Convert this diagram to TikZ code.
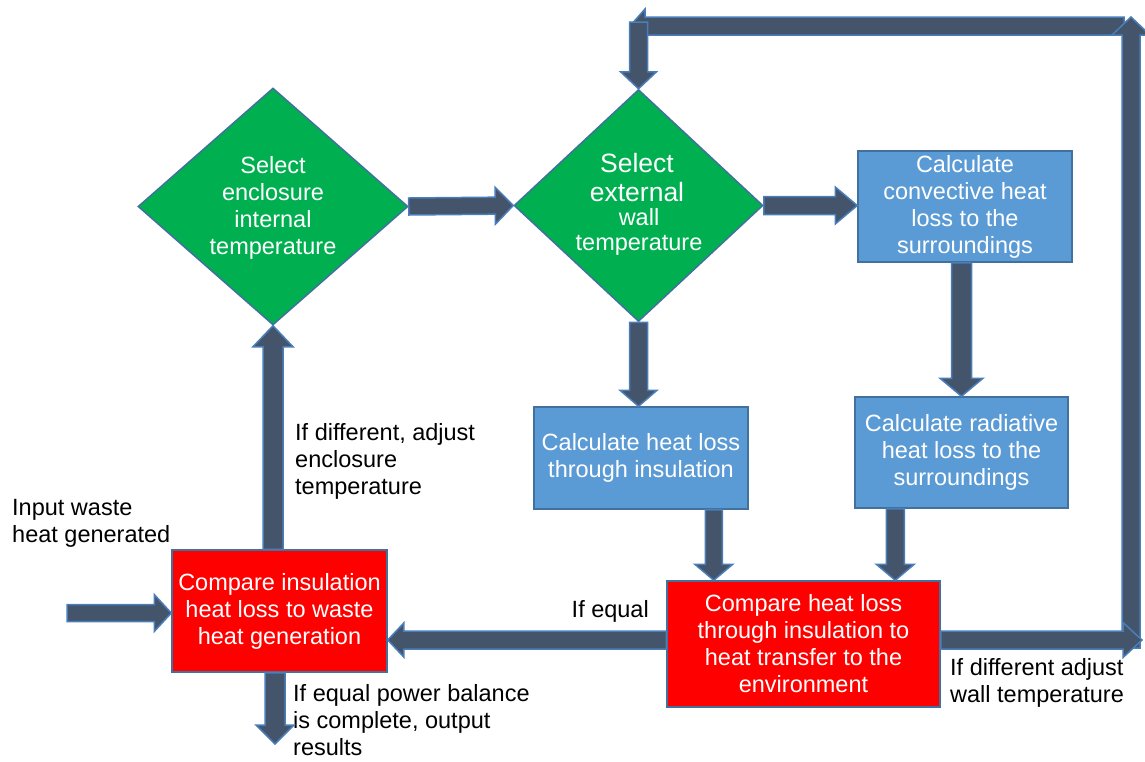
\documentclass[tikz,border=0pt]{standalone}
\usepackage{fontspec}
\setmainfont{Liberation Sans}
\usetikzlibrary{shapes.geometric,calc}
\definecolor{dgreen}{HTML}{00B050}
\definecolor{bbox}{HTML}{5B9BD5}
\definecolor{rbox}{HTML}{FF0000}
\definecolor{outl}{HTML}{41719C}
\definecolor{afill}{HTML}{44546A}
\definecolor{aline}{HTML}{4A7EBB}
\tikzset{
  basefont/.style={font=\fontsize{23.5}{27}\selectfont},
  dia/.style={diamond,draw=outl,line width=1.5pt,fill=dgreen,inner sep=0pt},
  bluebox/.style={rectangle,draw=outl,line width=1.5pt,fill=bbox,text=white,align=center,basefont,inner sep=0pt},
  redbox/.style={rectangle,draw=outl,line width=1.5pt,fill=rbox,text=white,align=center,basefont,inner sep=0pt},
  diatext/.style={text=white,align=center,basefont,inner sep=0pt},
  lbl/.style={text=black,align=left,basefont,inner sep=0pt},
  barrow/.style={fill=afill,draw=aline,line width=1.5pt,line join=miter},
}
% #1 start, #2 tip, #3 shaft half width, #4 head half width, #5 head length
\newcommand{\blockarrow}[5]{%
  \coordinate (ba-b) at ($(#2)!#5!(#1)$);
  \filldraw[barrow] ($(#1)!#3!90:(#2)$) -- ($(ba-b)!#3!-90:(#1)$) -- ($(ba-b)!#4!-90:(#1)$) -- (#2)
     -- ($(ba-b)!#4!90:(#1)$) -- ($(ba-b)!#3!90:(#1)$) -- ($(#1)!#3!-90:(#2)$) -- cycle;
}
\begin{document}
\begin{tikzpicture}[x=1pt,y=-1pt]
\useasboundingbox (0,0) rectangle (1145,761);

% shapes
\node[dia,minimum width=270pt,minimum height=237pt] (d1) at (273,206.5) {};
\node[dia,minimum width=249pt,minimum height=232pt] (d2) at (638.5,205.5) {};
\node[bluebox,minimum width=214pt,minimum height=111pt] (b1) at (965,206.5)
  {Calculate\\convective heat\\loss to the\\surroundings};
\node[bluebox,minimum width=213pt,minimum height=111pt] (b2) at (961.5,452.5)
  {Calculate radiative\\heat loss to the\\surroundings};
\node[bluebox,minimum width=214pt,minimum height=102pt] (b3) at (641,458)
  {Calculate heat loss\\through insulation};
\node[redbox,minimum width=215pt,minimum height=122pt] (r1) at (279.5,611)
  {Compare insulation\\heat loss to waste\\heat generation};
\node[redbox,minimum width=273pt,minimum height=126pt] (r2) at (803.5,644)
  {Compare heat loss\\through insulation to\\heat transfer to the\\environment};

% diamond texts
\node[diatext] (d1t) at (273,208) {Select\\enclosure\\internal\\temperature};
\node[diatext,font=\fontsize{26.5}{29}\selectfont] (d2ta) at (637,177.5) {Select\\external};
\node[diatext,font=\fontsize{23.5}{25}\selectfont] (d2tb) at (639,232) {wall\\temperature};

% labels
\node[lbl,anchor=west] (l1) at (295,461) {If different, adjust\\enclosure\\temperature};
\node[lbl,anchor=west] (l2) at (12,523) {Input waste\\heat generated};
\node[lbl,anchor=west] (l3) at (293,720) {If equal power balance\\is complete, output\\results};
\node[lbl,anchor=west] (l4) at (950,683) {If different adjust\\wall temperature};
\node[lbl,anchor=east] (l5) at (649,611) {If equal};

% coordinates
\coordinate (in) at (67,613);
\coordinate (out) at (275,744);
\coordinate (a5) at ($(b3.south east)+(-35,0)$);
\coordinate (a6) at ($(b2.south west)+(41,0)$);
\coordinate (a7) at ($(r2.west)+(0,-4)$);
\coordinate (a10) at ($(r1.south)+(-4.5,0)$);
\coordinate (a11) at ($(r2.east)+(0,-4)$);
\coordinate (fr) at (1142,640);
\coordinate (fu0) at (1131,648);
\coordinate (fu) at (1131,17);
\coordinate (ft0) at (1124,26);
\coordinate (ft) at (630,26);
\coordinate (fd0) at (638.5,22);

% arrows
\blockarrow{d1.east}{d2.west}{8.5pt}{18.5pt}{18pt}
\blockarrow{d2.east}{d2.east -| b1.west}{9pt}{18.5pt}{22pt}
\blockarrow{d2.south}{d2.south |- b3.north}{9pt}{18.5pt}{16pt}
\blockarrow{b2.north |- b1.south}{b2.north}{10pt}{21.5pt}{18pt}
\blockarrow{a5}{a5 |- r2.north}{8.5pt}{19pt}{16pt}
\blockarrow{a6}{a6 |- r2.north}{9pt}{19pt}{16pt}
\blockarrow{a7}{r1.east |- a7}{9pt}{17pt}{16pt}
\blockarrow{d1.south |- r1.north}{d1.south}{10pt}{20pt}{21pt}
\blockarrow{in}{r1.west |- in}{8.5pt}{18.5pt}{17pt}
\blockarrow{a10}{out}{10pt}{19pt}{19pt}
\blockarrow{ft0}{ft}{9pt}{17pt}{15pt}
\blockarrow{fd0}{d2.north}{9pt}{18pt}{17pt}
\blockarrow{fu0}{fu}{9pt}{19pt}{18pt}
\blockarrow{a11}{fr}{9pt}{17.5pt}{19pt}
\end{tikzpicture}
\end{document}
